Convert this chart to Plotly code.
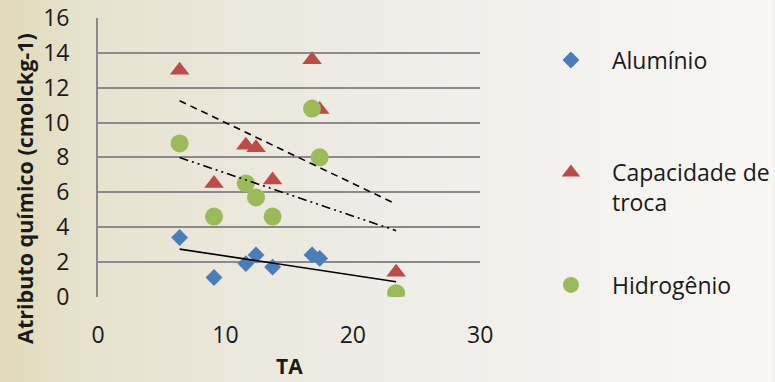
import numpy as np
import plotly.graph_objects as go

# ---- data ----
ta = [6.4, 9.1, 11.6, 12.4, 13.7, 16.8, 17.4, 23.4]
aluminio = [3.4, 1.1, 1.9, 2.4, 1.7, 2.4, 2.2, 0.2]
capacidade = [13.0, 6.5, 8.7, 8.55, 6.7, 13.6, 10.75, 1.4]
hidrogenio = [8.8, 4.6, 6.5, 5.7, 4.6, 10.8, 8.0, 0.2]
series_names = ["Alumínio", "Capacidade de<br>troca", "Hidrogênio"]
y_ticks = [0, 2, 4, 6, 8, 10, 12, 14, 16]
x_ticks = [0, 10, 20, 30]

W, H = 775, 382
FONT = "Open Sans"
TXT = "#1a1a1a"

fig = go.Figure()

# background gradient (styling only)
stops = [(0.0, (225, 219, 186)), (0.13, (231, 227, 208)), (0.5, (239, 237, 232)), (1.0, (248, 247, 244))]
def grad(t):
    for (t0, c0), (t1, c1) in zip(stops[:-1], stops[1:]):
        if t <= t1:
            f = (t - t0) / (t1 - t0)
            return tuple(int(round(a + (b - a) * f)) for a, b in zip(c0, c1))
    return stops[-1][1]
N = 80
for i in range(N):
    c = grad((i + 0.5) / N)
    fig.add_shape(type="rect", xref="paper", yref="paper", x0=i / N, x1=(i + 1) / N + 0.002,
                  y0=0, y1=1, line_width=0, fillcolor="rgb(%d,%d,%d)" % c, layer="below")

styles = [
    dict(symbol="diamond", color="#4a7ebb", size=13, dash="solid", legend="legend"),
    dict(symbol="triangle-up", color="#be4b48", size=17, dash="7px,5px", legend="legend2"),
    dict(symbol="circle", color="#9bbb59", size=18, dash="9px,4px,2px,4px,2px,4px", legend="legend3"),
]
values = [aluminio, capacidade, hidrogenio]

for name, ys, st in zip(series_names, values, styles):
    fig.add_trace(go.Scatter(x=ta, y=ys, mode="markers", name=name,
                             marker=dict(symbol=st["symbol"], color=st["color"], size=st["size"], line_width=0),
                             legend=st["legend"], showlegend=True))

for ys, st in zip(values, styles):
    m, b = np.polyfit(ta, ys, 1)
    xs = np.array([min(ta), max(ta)])
    fig.add_trace(go.Scatter(x=xs, y=m * xs + b, mode="lines", showlegend=False,
                             line=dict(color="black", width=1.6, dash=st["dash"]), hoverinfo="skip"))

x_dom = [98.5 / W, 482 / W]
y_dom = [(H - 296.7) / H, (H - 18) / H]

leg_common = dict(xanchor="left", bgcolor="rgba(0,0,0,0)", font=dict(size=23),
                  valign="top", itemsizing="trace", itemwidth=72)
LX = 532 / W

fig.update_layout(
    width=W, height=H, autosize=False, margin=dict(l=0, r=0, t=0, b=0, pad=0),
    paper_bgcolor="#f2f0ea", plot_bgcolor="rgba(0,0,0,0)",
    font=dict(family=FONT, size=23, color=TXT),
    xaxis=dict(domain=x_dom, range=[0, 30], tickvals=x_ticks, showgrid=False, zeroline=False,
               showline=False, ticks="", ticklabelstandoff=22, tickfont=dict(size=23), automargin=False),
    yaxis=dict(domain=y_dom, range=[0, 16], tickvals=y_ticks, showgrid=True, gridcolor="#8a8a8a",
               gridwidth=2, zeroline=False, showline=True, linecolor="#8a8a8a", linewidth=2,
               ticks="", ticklabelstandoff=22, tickfont=dict(size=23), automargin=False),
    legend=dict(x=LX, y=1 - 60 / H, yanchor="middle", **leg_common),
    legend2=dict(x=LX, y=1 - 151 / H, yanchor="top", **leg_common),
    legend3=dict(x=LX, y=1 - 285 / H, yanchor="middle", **leg_common),
    annotations=[
        dict(text="<b>Atributo químico (cmolckg-1)</b>", textangle=-90, xref="paper", yref="paper",
             x=24 / W, y=1 - 188 / H, xanchor="center", yanchor="middle", showarrow=False,
             font=dict(size=21.5, color=TXT)),
        dict(text="<b>TA</b>", xref="paper", yref="paper", x=291 / W, y=0,
             xanchor="center", yanchor="bottom", showarrow=False, font=dict(size=21, color=TXT)),
    ],
)

fig.write_html("out.html", config={"responsive": False},
               post_script="document.body.style.margin='0';document.body.style.overflow='hidden';")
